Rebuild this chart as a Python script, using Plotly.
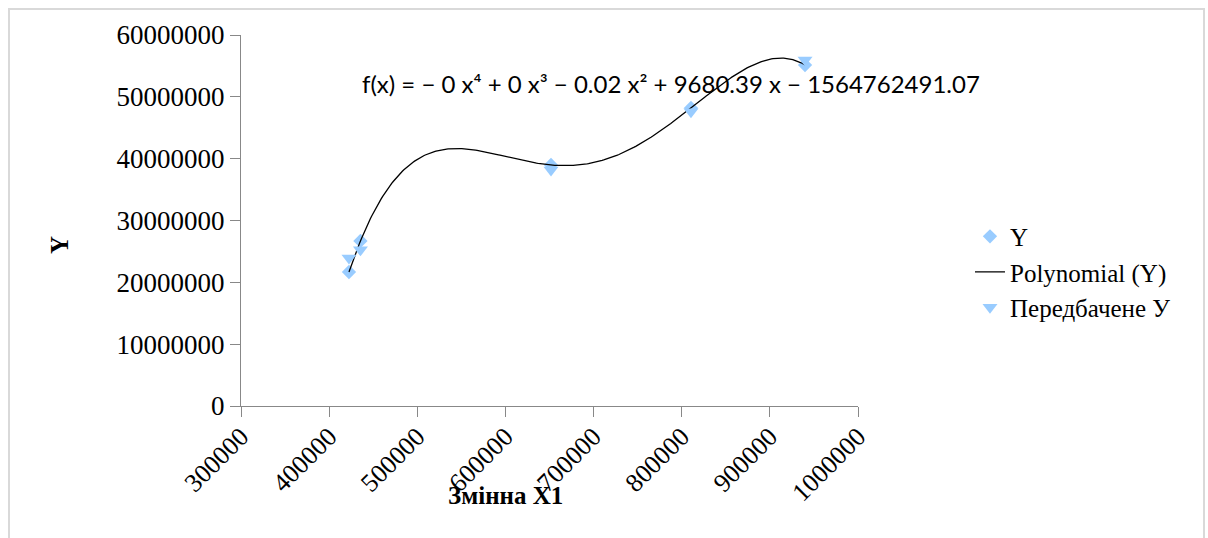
import numpy as np
import plotly.graph_objects as go

# Змінна X1 and observed / predicted Y
x1 = [422500, 435500, 651700, 810500, 939900]
y_obs = [21670000, 26690000, 38980000, 48200000, 55150000]
y_pred = [23950000, 25250000, 38170000, 47600000, 55960000]

x_ticks = [300000, 400000, 500000, 600000, 700000, 800000, 900000, 1000000]
y_ticks = [0, 10000000, 20000000, 30000000, 40000000, 50000000, 60000000]

equation = "f(x) = − 0 x⁴ + 0 x³ − 0.02 x² + 9680.39 x − 1564762491.07"

# 4th-order polynomial trendline through the observed Y
coef = np.polyfit(np.array(x1, float) / 1e6, np.array(y_obs, float), 4)
xs = np.linspace(min(x1), max(x1), 300)
ys = np.polyval(coef, xs / 1e6)

serif = "Liberation Serif, Times New Roman, serif"
marker_color = "#99CCFF"

fig = go.Figure()
fig.add_trace(go.Scatter(
    x=x1, y=y_obs, mode="markers", name="Y",
    marker=dict(symbol="diamond", size=11, color=marker_color),
))
fig.add_trace(go.Scatter(
    x=xs, y=ys, mode="lines", name="Polynomial (Y)",
    line=dict(color="black", width=1.3),
))
fig.add_trace(go.Scatter(
    x=x1, y=y_pred, mode="markers", name="Передбачене У",
    marker=dict(symbol="triangle-down", size=13, color=marker_color),
))

axis_common = dict(
    showgrid=False, zeroline=False, showline=True,
    linecolor="#888888", linewidth=1,
    ticks="outside", ticklen=10, tickcolor="#888888", tickwidth=1,
    tickformat="d",
)

fig.update_xaxes(
    range=[300000, 1000000], tickvals=x_ticks, tickangle=-45,
    tickfont=dict(family=serif, size=26, color="black"),
    ticklabelstandoff=-6,
    **axis_common,
)
fig.update_yaxes(
    range=[0, 60000000], tickvals=y_ticks,
    tickfont=dict(family=serif, size=27, color="black"),
    **axis_common,
)

fig.update_layout(
    width=1208, height=538,
    margin=dict(l=241, r=350, t=35, b=132),
    paper_bgcolor="white", plot_bgcolor="white",
    font=dict(family=serif, size=25, color="black"),
    showlegend=True,
    legend=dict(
        x=1.1815, y=0.361, xanchor="left", yanchor="middle",
        font=dict(family=serif, size=25, color="black"),
        bgcolor="rgba(0,0,0,0)", borderwidth=0,
        tracegroupgap=0,
    ),
    shapes=[dict(
        type="rect", xref="paper", yref="paper",
        x0=-0.376, x1=1.5608, y0=-0.38, y1=1.0701,
        line=dict(color="#D9D9D9", width=2), fillcolor="rgba(0,0,0,0)",
        layer="below",
    )],
    annotations=[
        dict(text=equation, xref="paper", yref="paper",
             x=0.6977, y=0.8706, xanchor="center", yanchor="middle",
             showarrow=False,
             font=dict(family="Lato", size=24, color="black")),
        dict(text="<b>Змінна X1</b>", xref="paper", yref="paper",
             x=0.428, y=-0.24, xanchor="center", yanchor="middle",
             showarrow=False,
             font=dict(family=serif, size=25, color="black")),
        dict(text="<b>Y</b>", xref="paper", yref="paper",
             x=-0.2934, y=0.434, xanchor="center", yanchor="middle",
             showarrow=False, textangle=-90,
             font=dict(family=serif, size=25, color="black")),
    ],
)

fig.write_html("out.html")
